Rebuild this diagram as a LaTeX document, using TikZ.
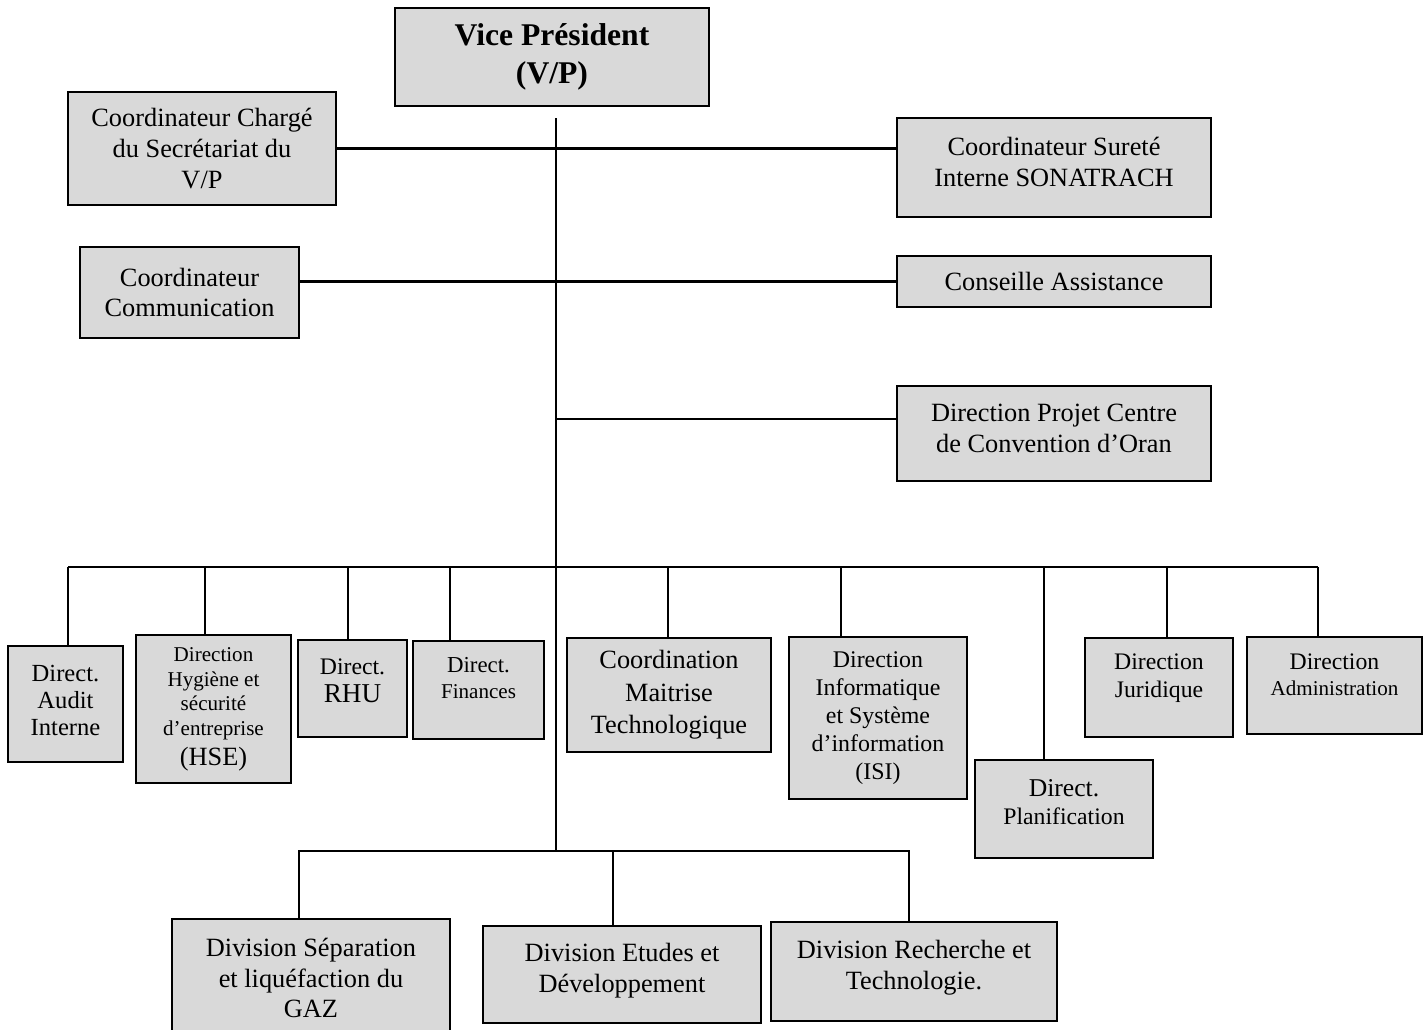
\documentclass[tikz,border=0pt]{standalone}
\usepackage{fontspec}
\setmainfont{Liberation Serif}
\usepackage{tikz}
\usetikzlibrary{calc}
\definecolor{boxgray}{RGB}{217,217,217}
% empty last line, to push the text up in its box
\newcommand{\lift}[1]{\\[#1]\mbox{}}

\begin{document}
\begin{tikzpicture}[
  x=0.02cm, y=-0.02cm,
  unit/.style={draw, line width=1.6pt, fill=boxgray, align=center, inner sep=1pt,
               font=\fontsize{15}{17.6}\selectfont},
  link/.style={line width=1.2pt}
]
\clip (0,0) rectangle (1428,1029);
\fill[white] (0,0) rectangle (1428,1029);

% Vice President and staff
\node[unit, minimum width=6.28cm, minimum height=1.96cm,
      font=\fontsize{18}{21.5}\selectfont\bfseries] (vp) at (552,57)
  {Vice Président\\(V/P)};
\node[unit, minimum width=5.36cm, minimum height=2.26cm] (secr) at (202,148.5)
  {Coordinateur Chargé\\du Secrétariat du\\V/P};
\node[unit, minimum width=6.28cm, minimum height=1.98cm] (surete) at (1054,167.5)
  {Coordinateur Sureté\\Interne SONATRACH\lift{-10.8pt}};
\node[unit, minimum width=4.38cm, minimum height=1.82cm] (comm) at (189.5,292.5)
  {Coordinateur\\Communication};
\node[unit, minimum width=6.28cm, minimum height=1.02cm] (conseil) at (1054,281.5)
  {Conseille Assistance};
\node[unit, minimum width=6.28cm, minimum height=1.90cm] (projet) at (1054,433.5)
  {Direction Projet Centre\\de Convention d’Oran\lift{-11.4pt}};

% Directions
\node[unit, minimum width=2.30cm, minimum height=2.32cm,
      font=\fontsize{14}{15.3}\selectfont] (audit) at (65.5,704)
  {Direct.\\Audit\\Interne\lift{-11.3pt}};
\node[unit, minimum width=3.10cm, minimum height=2.96cm,
      font=\fontsize{12}{14.2}\selectfont] (hse) at (213.5,709)
  {Direction\\Hygiène et\\sécurité\\d’entreprise\\[2.5pt]\fontsize{15}{16}\selectfont (HSE)};
\node[unit, minimum width=2.18cm, minimum height=1.94cm,
      font=\fontsize{13.5}{16}\selectfont] (rhu) at (352.5,688.5)
  {Direct.\\\fontsize{15.5}{16}\selectfont RHU\lift{-7pt}};
\node[unit, minimum width=2.62cm, minimum height=1.96cm,
      font=\fontsize{13}{14.7}\selectfont] (fin) at (478.5,690)
  {Direct.\\\fontsize{12}{14.7}\selectfont Finances\lift{-1.1pt}};
\node[unit, minimum width=4.08cm, minimum height=2.28cm,
      font=\fontsize{15}{18.4}\selectfont] (cmt) at (669,695)
  {Coordination\\Maitrise\\Technologique};
\node[unit, minimum width=3.56cm, minimum height=3.24cm,
      font=\fontsize{13.6}{15.9}\selectfont] (isi) at (878,718)
  {Direction\\Informatique\\et Système\\d’information\\(ISI)};
\node[unit, minimum width=3.56cm, minimum height=1.96cm,
      font=\fontsize{14.6}{16.4}\selectfont] (plan) at (1064,809)
  {Direct.\\\fontsize{13.5}{16.4}\selectfont Planification\lift{-8.4pt}};
\node[unit, minimum width=2.96cm, minimum height=1.98cm,
      font=\fontsize{13.5}{15.9}\selectfont] (jur) at (1159,687.5)
  {Direction\\Juridique\lift{-2.1pt}};
\node[unit, minimum width=3.50cm, minimum height=1.94cm,
      font=\fontsize{13.5}{14.7}\selectfont] (adm) at (1334.5,685.5)
  {Direction\\\fontsize{12}{14.7}\selectfont Administration\lift{-2.7pt}};

% Divisions
\node[unit, minimum width=5.56cm, minimum height=2.36cm] (sep) at (311,978)
  {Division Séparation\\et liquéfaction du\\GAZ};
\node[unit, minimum width=5.56cm, minimum height=1.94cm] (etu) at (622,974.5)
  {Division Etudes et\\Développement\lift{-9.6pt}};
\node[unit, minimum width=5.72cm, minimum height=1.98cm] (rech) at (914,971.5)
  {Division Recherche et\\Technologie.\lift{-9.8pt}};

% Trunk from V/P
\coordinate (trunk) at ($(vp.south)+(4,11)$);
\coordinate (bus2) at (556,851);
\draw[link] (trunk) -- (bus2);

% Staff links
\draw[link] (secr.east) -- (secr.east -| surete.west);
\draw[link] (conseil.west) -- (conseil.west -| comm.east);
\coordinate (pj) at ($(projet.west)+(0,-14.5)$);
\draw[link] (pj) -- (pj -| trunk);

% Directions bus
\coordinate (busL) at (68,567);
\coordinate (busR) at (1318,567);
\draw[link] (busL) -- (busR);
\foreach \n/\dx in {audit/2.5, hse/-8.5, rhu/-4.5, fin/-28.5, cmt/-1,
                    isi/-37, plan/-20, jur/8, adm/-16.5}
  \coordinate (\n-top) at ($(\n.north)+(\dx,0)$);
\foreach \n in {audit, hse, rhu, fin, cmt, isi, plan, jur, adm}
  \draw[link] (\n-top) -- (\n-top |- busL);

% Divisions bus
\foreach \n/\dx in {sep/-12, etu/-9, rech/-5}
  \coordinate (\n-top) at ($(\n.north)+(\dx,0)$);
\draw[link] (sep-top) -- (sep-top |- bus2) -- (rech-top |- bus2) -- (rech-top);
\draw[link] (etu-top) -- (etu-top |- bus2);

\end{tikzpicture}
\end{document}
